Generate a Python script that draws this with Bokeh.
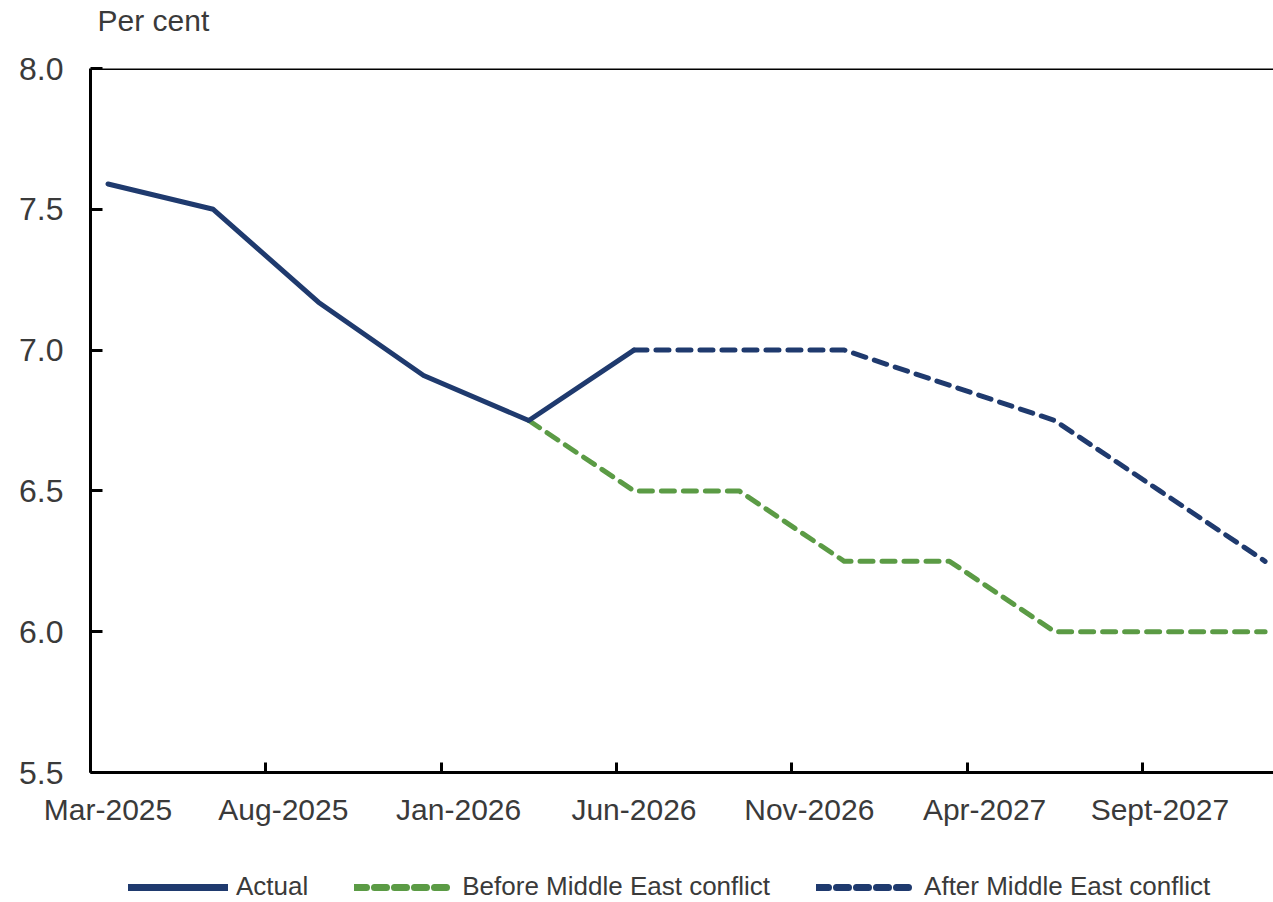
from bokeh.plotting import figure
from bokeh.layouts import column
from bokeh.models import (Range1d, FixedTicker, Span, Legend, LegendItem, PrintfTickFormatter,
                          ColumnDataSource, LinearAxis, Label)
from bokeh.embed import file_html
from bokeh.resources import INLINE

# ---- data ----
tick_labels = ["Mar-2025", "Aug-2025", "Jan-2026", "Jun-2026", "Nov-2026", "Apr-2027", "Sept-2027"]
tick_months = ["2025-03", "2025-08", "2026-01", "2026-06", "2026-11", "2027-04", "2027-09"]
y_ticks = [5.5, 6.0, 6.5, 7.0, 7.5, 8.0]

actual_dates = ["2025-03", "2025-06", "2025-09", "2025-12", "2026-03", "2026-06"]
actual = [7.59, 7.50, 7.17, 6.91, 6.75, 7.00]

before_dates = ["2026-03", "2026-06", "2026-09", "2026-12", "2027-03", "2027-06", "2027-09", "2027-12"]
before = [6.75, 6.50, 6.50, 6.25, 6.25, 6.00, 6.00, 6.00]

after_dates = ["2026-06", "2026-09", "2026-12", "2027-03", "2027-06", "2027-09", "2027-12"]
after = [7.00, 7.00, 7.00, 6.875, 6.75, 6.50, 6.25]

series_labels = ["Actual", "Before Middle East conflict", "After Middle East conflict"]
unit_label = "Per cent"

NAVY = "#1f3a6e"
GREEN = "#5b9b45"
FONT = "Liberation Sans"
TXT = "#3a3a3a"


def month_pos(s, mid=True):
    y, m = s.split("-")
    return (int(y) - 2025) * 12 + (int(m) - 3) + (0.5 if mid else 0.0)


def strip(height):
    f = figure(width=1273, height=height, output_backend="svg", toolbar_location=None,
               x_range=Range1d(0, 1), y_range=Range1d(100, 101), title=None,
               x_axis_location=None, y_axis_location=None,
               min_border=0, outline_line_color=None)
    f.grid.visible = False
    f.border_fill_color = "white"
    f.background_fill_color = "white"
    return f


# ---- top strip with unit label (frame aligned with main chart frame at x=90) ----
top = strip(52)
top.add_layout(Label(x=7, y=32, x_units="screen", y_units="screen", text=unit_label,
                     text_font=FONT, text_font_size="30px", text_color=TXT,
                     text_baseline="alphabetic"))

# ---- main chart ----
p = figure(width=1273, height=788, output_backend="svg", toolbar_location=None, title=None,
           x_range=Range1d(0, 33.74), y_range=Range1d(5.5, 8.0),
           x_axis_location=None,
           min_border_left=90, min_border_right=0, min_border_top=16, min_border_bottom=68)
p.outline_line_color = None
p.xgrid.visible = False
p.ygrid.visible = False
p.background_fill_color = "white"
p.border_fill_color = "white"

AXW = 3

ya = p.yaxis[0]
ya.axis_line_color = "black"
ya.axis_line_width = AXW
ya.major_tick_line_color = "black"
ya.major_tick_line_width = AXW
ya.major_tick_out = 0
ya.major_tick_in = 12
ya.minor_tick_line_color = None
ya.major_label_text_font = FONT
ya.major_label_text_font_size = "32px"
ya.major_label_text_color = TXT
ya.ticker = FixedTicker(ticks=y_ticks)
ya.formatter = PrintfTickFormatter(format="%.1f")
ya.major_label_standoff = 27

# x axis: tick marks at month starts
xt = [month_pos(m, mid=False) for m in tick_months]
tick_axis = LinearAxis(ticker=FixedTicker(ticks=xt), axis_line_color="black", axis_line_width=AXW,
                       major_tick_line_color="black", major_tick_line_width=AXW,
                       major_tick_in=10, major_tick_out=0, minor_tick_line_color=None,
                       major_label_text_font_size="1px", major_label_standoff=0)
tick_axis.major_label_overrides = {t: " " for t in xt}
# labels centred mid-month
xl = [month_pos(m, mid=True) for m in tick_months]
label_axis = LinearAxis(ticker=FixedTicker(ticks=xl), axis_line_color=None,
                        major_tick_line_color=None, minor_tick_line_color=None,
                        major_tick_in=0, major_tick_out=0,
                        major_label_text_font=FONT, major_label_text_font_size="30px",
                        major_label_text_color=TXT, major_label_standoff=16)
label_axis.major_label_overrides = {t: l for t, l in zip(xl, tick_labels)}
p.add_layout(tick_axis, "below")
p.add_layout(label_axis, "below")

p.add_layout(Span(location=8.0, dimension="width", line_color="black", line_width=AXW))

src_b = ColumnDataSource(dict(x=[month_pos(d) for d in before_dates], y=before))
src_a = ColumnDataSource(dict(x=[month_pos(d) for d in after_dates], y=after))
src_act = ColumnDataSource(dict(x=[month_pos(d) for d in actual_dates], y=actual))

p.line("x", "y", source=src_b, line_color=GREEN, line_width=5, line_dash="13 9", line_cap="round", line_join="round")
p.line("x", "y", source=src_a, line_color=NAVY, line_width=5, line_dash="13 9", line_cap="round", line_join="round")
p.line("x", "y", source=src_act, line_color=NAVY, line_width=5, line_cap="round", line_join="round")

# ---- legend strip (same data sources, outside the strip's visible range) ----
lf = strip(62)
g1 = lf.line("x", "y", source=src_act, line_color=NAVY, line_width=7, line_cap="round")
g2 = lf.line("x", "y", source=src_b, line_color=GREEN, line_width=7, line_dash="12 8", line_cap="round")
g3 = lf.line("x", "y", source=src_a, line_color=NAVY, line_width=7, line_dash="12 8", line_cap="round")

legend = Legend(items=[LegendItem(label=series_labels[0], renderers=[g1]),
                       LegendItem(label=series_labels[1], renderers=[g2]),
                       LegendItem(label=series_labels[2], renderers=[g3])],
                orientation="horizontal", location=(38, 0),
                glyph_width=100, glyph_height=20, label_standoff=8, spacing=46,
                padding=0, margin=0, border_line_color=None, background_fill_alpha=0,
                label_text_font=FONT, label_text_font_size="26px", label_text_color=TXT)
lf.add_layout(legend, "center")

open("out.html", "w").write(file_html(column(top, p, lf, spacing=0), INLINE))
